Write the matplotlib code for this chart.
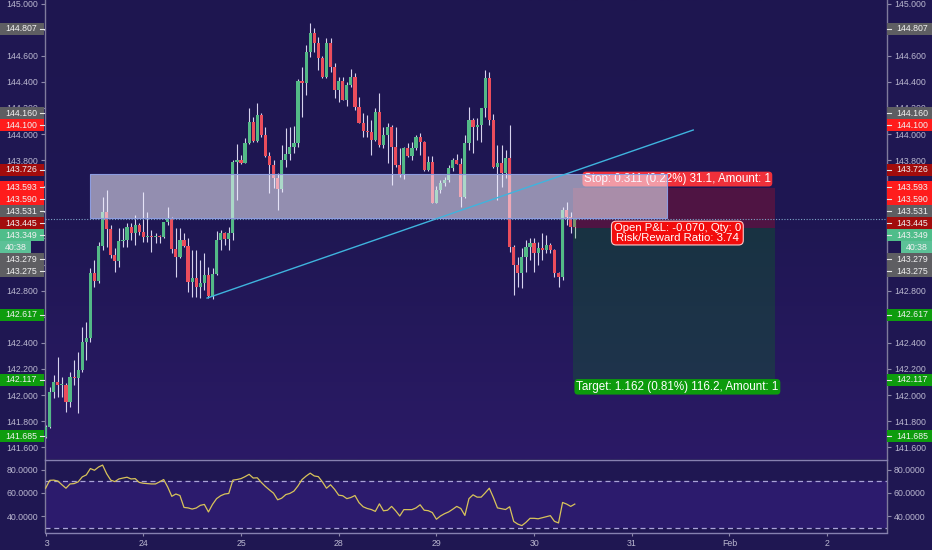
import matplotlib
matplotlib.use('Agg')
import matplotlib.pyplot as plt
from matplotlib.patches import Rectangle
from matplotlib.lines import Line2D
from matplotlib.colors import LinearSegmentedColormap
import numpy as np

plt.rcParams['font.family'] = ['Liberation Sans', 'DejaVu Sans']

# hourly candles, 23 Jan 00:00 -> 30 Jan 10:00 (weekend skipped)
first_open = 141.681
closes = [141.757, 142.025, 142.102, 142.077, 142.080, 141.949, 142.140, 142.128, 142.191, 142.409,
          142.434, 142.932, 142.873, 143.142, 143.405, 143.269, 143.073, 143.029, 143.180, 143.185,
          143.290, 143.239, 143.303, 143.251, 143.213, 143.221, 143.213, 143.215, 143.213, 143.323,
          143.354, 143.119, 143.055, 143.188, 143.142, 142.869, 142.894, 142.831, 142.856, 142.920,
          142.759, 142.928, 143.188, 143.239, 143.193, 143.239, 143.789, 143.801, 143.781, 143.929,
          144.095, 143.949, 144.146, 143.993, 143.832, 143.763, 143.661, 143.576, 143.801, 143.845,
          143.903, 143.929, 144.407, 144.394, 144.631, 144.772, 144.700, 144.580, 144.440, 144.695,
          144.516, 144.338, 144.409, 144.261, 144.376, 144.440, 144.210, 144.082, 144.026, 144.018,
          143.954, 144.172, 143.916, 143.993, 144.057, 143.903, 143.763, 143.686, 143.896, 143.832,
          143.891, 143.980, 143.942, 143.725, 143.789, 143.474, 143.571, 143.622, 143.648, 143.737,
          143.801, 143.770, 143.520, 143.928, 144.107, 144.056, 144.069, 144.197, 144.427, 144.107,
          143.750, 143.775, 143.699, 143.814, 143.137, 142.996, 142.932, 143.060, 143.137, 143.167,
          143.086, 143.124, 143.111, 143.149, 143.111, 142.932, 142.907, 143.418, 143.367, 143.290,
          143.346]
highs = [141.770, 142.064, 142.153, 142.294, 142.140, 142.090, 142.179, 142.268, 142.332, 142.525,
         142.562, 142.970, 143.034, 143.175, 143.515, 143.571, 143.303, 143.124, 143.277, 143.277,
         143.315, 143.315, 143.379, 143.315, 143.558, 143.405, 143.264, 143.239, 143.226, 143.328,
         143.443, 143.366, 143.277, 143.277, 143.239, 143.201, 143.112, 143.112, 143.035, 143.086,
         142.984, 142.971, 143.260, 143.265, 143.252, 143.290, 143.800, 143.920, 143.840, 143.967,
         144.197, 144.133, 144.235, 144.159, 144.057, 143.865, 143.801, 143.699, 143.916, 144.044,
         144.057, 144.060, 144.420, 144.516, 144.682, 144.850, 144.810, 144.746, 144.600, 144.734,
         144.734, 144.542, 144.440, 144.440, 144.401, 144.496, 144.465, 144.287, 144.159, 144.146,
         144.108, 144.197, 144.312, 144.057, 144.082, 144.069, 144.057, 143.891, 143.903, 143.929,
         143.942, 143.993, 144.006, 143.950, 143.832, 143.832, 143.600, 143.650, 143.670, 143.760,
         143.820, 143.847, 143.814, 143.992, 144.209, 144.120, 144.120, 144.197, 144.490, 144.478,
         144.150, 143.916, 143.916, 143.877, 144.069, 143.150, 143.060, 143.124, 143.188, 143.200,
         143.200, 143.175, 143.244, 143.226, 143.162, 143.120, 142.940, 143.443, 143.481, 143.405,
         143.354]
lows = [141.670, 141.750, 141.974, 141.987, 141.987, 141.872, 141.911, 142.077, 141.860, 142.180,
        142.268, 142.409, 142.830, 142.860, 143.111, 143.137, 143.047, 142.945, 142.983, 143.137,
        143.137, 143.188, 143.149, 143.226, 143.175, 143.175, 143.098, 143.162, 143.167, 143.200,
        143.303, 143.085, 142.907, 143.047, 143.137, 142.792, 142.754, 142.754, 142.741, 142.805,
        142.741, 142.733, 142.920, 143.112, 143.150, 143.112, 143.188, 143.495, 143.770, 143.776,
        143.920, 143.942, 143.942, 143.980, 143.827, 143.546, 143.584, 143.418, 143.559, 143.750,
        143.801, 143.852, 143.900, 144.133, 144.299, 144.593, 144.631, 144.491, 144.430, 144.430,
        144.478, 144.274, 144.248, 144.261, 144.215, 144.363, 144.184, 144.082, 143.980, 143.980,
        143.840, 143.950, 143.903, 143.891, 143.776, 143.610, 143.750, 143.674, 143.653, 143.822,
        143.801, 143.880, 143.840, 143.720, 143.715, 143.469, 143.469, 143.550, 143.600, 143.630,
        143.720, 143.770, 143.443, 143.507, 143.877, 143.852, 143.954, 143.941, 144.133, 144.069,
        143.740, 143.494, 143.596, 143.660, 143.098, 142.766, 142.830, 142.817, 142.945, 143.034,
        142.945, 142.996, 143.034, 143.086, 143.086, 142.907, 142.830, 142.881, 143.300, 143.239,
        143.200]
rsi = [64.0, 70.8, 71.0, 70.2, 67.0, 64.0, 67.7, 68.0, 69.5, 73.8,
       75.5, 81.0, 79.5, 82.3, 84.0, 76.5, 71.0, 69.7, 72.0, 72.8,
       73.5, 72.0, 72.3, 69.0, 68.3, 68.0, 67.7, 67.7, 69.5, 71.5,
       65.0, 57.0, 59.0, 57.7, 47.4, 47.0, 46.0, 46.9, 49.2, 50.0,
       43.5, 50.0, 55.0, 57.5, 59.0, 59.5, 71.0, 71.5, 72.3, 74.0,
       76.0, 72.8, 73.0, 69.0, 65.5, 62.5, 59.7, 54.0, 55.4, 58.5,
       59.5, 61.5, 66.0, 71.5, 74.5, 77.0, 74.6, 74.0, 69.5, 64.0,
       67.0, 63.0, 58.0, 57.5, 55.0, 56.0, 57.7, 51.5, 48.0, 46.5,
       45.6, 44.0, 50.5, 44.5, 45.0, 48.3, 44.5, 40.0, 45.5, 45.5,
       45.5, 47.0, 49.7, 45.0, 44.6, 43.0, 37.2, 40.0, 42.0, 43.5,
       45.8, 48.3, 46.5, 40.5, 55.0, 58.3, 56.3, 56.3, 60.0, 64.0,
       56.0, 47.0, 46.3, 45.6, 48.0, 35.3, 33.0, 31.7, 34.5, 38.0,
       38.0, 37.6, 38.5, 39.4, 40.3, 35.4, 34.0, 51.7, 50.3, 48.3,
       50.3]

day_ticks = [0, 24, 48, 72, 96, 120, 144, 168, 192]
day_labels = ['23', '24', '25', '28', '29', '30', '31', 'Feb', '2']

# drawings
zone_x = [10.9, 152.7]
zone_y = [143.356, 143.693]
trend_x = [39.66, 159.1]
trend_y = [142.743, 144.031]
pos_x = [129.5, 179.2]
entry, stop, target = 143.279, 143.590, 142.117
last_price = 143.349

# price-scale markers
mark_prices = [144.807, 144.160, 144.100, 143.726, 143.593, 143.590, 143.531,
               143.445, 143.349, 143.279, 143.275, 142.617, 142.117, 141.685]
mark_colors = ['#5e5e62', '#5e5e62', '#ff1c1c', '#a20c0c', '#ff1c1c', '#ff1c1c', '#5e5e62',
               '#a20c0c', '#4fbd8a', '#5e5e62', '#5e5e62', '#0e9c0e', '#0e9c0e', '#0e9c0e']
countdown = '40:38'

BG = '#1f1752'
UP = '#53b987'
DN = '#eb4d5c'
WICK = '#d6d2ee'
TXT = '#bab7d0'
W, H = 932, 550
FS = 6.3
BOX = 12  # marker height in px

fig = plt.figure(figsize=(W / 100, H / 100), dpi=100, facecolor=BG)
ax = fig.add_axes([45 / W, 1 - 459 / H, 842 / W, 459 / H])
rx = fig.add_axes([45 / W, 1 - 532.5 / H, 842 / W, 72.5 / H])

idx = np.arange(len(closes))
opens = np.array([first_open] + closes[:-1])
closes = np.array(closes)
up = closes >= opens

# background gradient in the price pane
grad = np.linspace(0, 1, 256).reshape(-1, 1)
cmap = LinearSegmentedColormap.from_list('bg', ['#1e1650', '#1f1753', '#2b1a66'])
ax.imshow(grad, extent=[0, 1, 0, 1], transform=ax.transAxes, cmap=cmap,
          aspect='auto', zorder=0)

# candles
ax.vlines(idx, lows, highs, color=WICK, lw=0.8, zorder=2)
body_h = np.maximum(np.abs(closes - opens), 0.006)
ax.bar(idx, body_h, bottom=np.minimum(opens, closes), width=0.78,
       color=np.where(up, UP, DN), linewidth=0, zorder=3)

# position tool
ax.add_patch(Rectangle((pos_x[0], entry), pos_x[1] - pos_x[0], stop - entry,
                       fc='#ff1010', alpha=0.22, lw=0, zorder=4))
ax.add_patch(Rectangle((pos_x[0], target), pos_x[1] - pos_x[0], entry - target,
                       fc='#00a000', alpha=0.2, lw=0, zorder=4))
mid = 155.2
ax.text(mid, 143.655, 'Stop: 0.311 (0.22%) 31.1, Amount: 1', ha='center', va='center',
        fontsize=8.4, color='white', zorder=4.5,
        bbox=dict(boxstyle='round,pad=0.12,rounding_size=0.3', fc='#f0303a', ec='none'))

# white zone
ax.add_patch(Rectangle((zone_x[0], zone_y[0]), zone_x[1] - zone_x[0], zone_y[1] - zone_y[0],
                       fc='#f4f2ff', alpha=0.55, ec='none', zorder=5))
ax.add_patch(Rectangle((zone_x[0], zone_y[0]), zone_x[1] - zone_x[0], zone_y[1] - zone_y[0],
                       fc='none', ec='#8d9ce0', lw=0.8, zorder=5))

ax.plot(trend_x, trend_y, color='#3fb4de', lw=1.0, zorder=6)
ax.axhline(last_price, color='#7fa6c8', lw=0.8, ls=(0, (1, 1.5)), zorder=6)

ax.text(mid, 142.063, 'Target: 1.162 (0.81%) 116.2, Amount: 1', ha='center', va='center',
        fontsize=8.4, color='white', zorder=7,
        bbox=dict(boxstyle='round,pad=0.15,rounding_size=0.3', fc='#0c9b0c', ec='none'))
ax.text(mid, 143.241, 'Open P&L: -0.070, Qty: 0\nRisk/Reward Ratio: 3.74', ha='center',
        va='center', fontsize=8.2, color='white', linespacing=0.9, zorder=7,
        bbox=dict(boxstyle='round,pad=0.2,rounding_size=0.4', fc='#f20c0c', ec='#ffc8c8', lw=0.8))

# axes styling
for a in (ax, rx):
    a.set_facecolor(BG)
    a.set_xlim(-0.15, 206.7)
    for s in ('left', 'right'):
        a.spines[s].set_color('#7f7b9c')
        a.spines[s].set_linewidth(1)
    a.tick_params(axis='y', which='both', left=True, right=True, labelleft=True,
                  labelright=True, colors='#8d89ab', labelcolor=TXT, labelsize=FS,
                  length=3, width=0.8, pad=2)

ax.set_ylim(141.51, 145.027)
ax.spines['top'].set_visible(False)
ax.spines['bottom'].set_visible(False)
ax.set_xticks([])


def to_px(price):
    return H - ax.transData.transform((0, price))[1]


# price scale markers, pushed down so they do not overlap
slots = []
prev = -100
for p in mark_prices:
    y = max(to_px(p), prev + BOX)
    slots.append(y)
    prev = y
    if p == last_price:
        prev += BOX
        count_y = prev


def covered(y):
    return any(abs(y - s) <= BOX / 2 for s in slots + [count_y])


# regular price ticks; the ones lying fully under markers are not visible
ticks = np.round(np.arange(141.6, 145.01, 0.2), 3)
tick_text = []
for t in ticks:
    ty = to_px(t)
    hidden = covered(ty - 3) and covered(ty + 3)
    tick_text.append('' if hidden else '%.3f' % t)
ax.set_yticks(ticks)
ax.set_yticklabels(tick_text)

for p, c, y in zip(mark_prices, mark_colors, slots):
    fy = 1 - y / H
    for x0, w, tx, ha, tk in ((887, 45, 896, 'left', (887, 891)),
                              (0, 44, 37, 'right', (40, 44))):
        fig.add_artist(Rectangle((x0 / W, fy - BOX / 2 / H), w / W, BOX / H,
                                 transform=fig.transFigure, fc=c, ec='none', zorder=3))
        fig.add_artist(Line2D([tk[0] / W, tk[1] / W], [fy, fy], transform=fig.transFigure,
                              color='#e6e6e6', lw=0.8, zorder=4))
        fig.text(tx / W, fy, '%.3f' % p, ha=ha, va='center', fontsize=FS,
                 color='#f2f2f2', zorder=5)

fy = 1 - count_y / H
for x0, w in ((901, 31), (0, 31)):
    fig.add_artist(Rectangle((x0 / W, fy - BOX / 2 / H), w / W, BOX / H,
                             transform=fig.transFigure, fc='#5cc197', ec='none', zorder=3))
    fig.text((x0 + w / 2) / W, fy, countdown, ha='center', va='center',
             fontsize=FS, color='#f2f2f2', zorder=5)

# RSI pane
rx.set_ylim(25.75, 88.38)
rx.axhspan(30, 70, color='#2c1b6d', lw=0, zorder=0)
rx.axhline(70, color='#aaa3d8', lw=0.9, ls=(0, (4, 3)), zorder=1)
rx.axhline(30, color='#aaa3d8', lw=0.9, ls=(0, (4, 3)), zorder=1)
rx.plot(idx, rsi, color='#d8c35a', lw=0.9, zorder=3)
for s in ('top', 'bottom'):
    rx.spines[s].set_color('#8681b0')
    rx.spines[s].set_linewidth(1)
rx.set_yticks([40, 60, 80])
rx.yaxis.set_major_formatter(matplotlib.ticker.FormatStrFormatter('%.4f'))
rx.set_xticks(day_ticks)
rx.set_xticklabels(day_labels)
rx.tick_params(axis='x', colors='#8d89ab', labelcolor=TXT, labelsize=FS, length=2, pad=2.5)

# hide the cut-off part of the first date label
fig.add_artist(Rectangle((0, 0), 45 / W, 17 / H, transform=fig.transFigure,
                         fc=BG, ec='none', zorder=2))

fig.savefig('out.png', dpi=100, facecolor=BG)
